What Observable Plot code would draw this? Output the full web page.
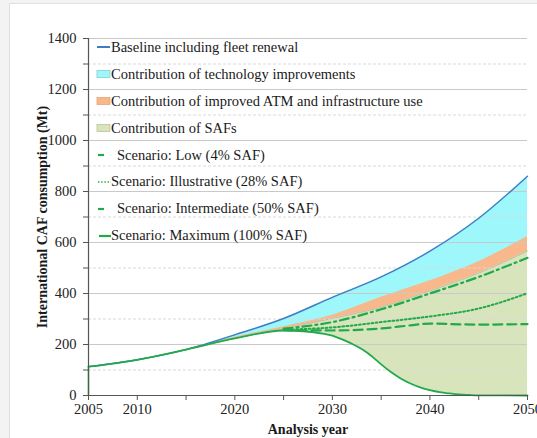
<!DOCTYPE html>
<html>
<head>
<meta charset="utf-8">
<script src="https://cdn.jsdelivr.net/npm/d3@7"></script>
<script src="https://cdn.jsdelivr.net/npm/@observablehq/plot@0.6"></script>
<style>
  body { margin: 0; background: #f3f3f3; }
  #wrap { position: relative; width: 537px; height: 438px; overflow: hidden; }
  #panel { position: absolute; left: 9px; top: 3px; right: 0; bottom: 0; background: #fff;
           border-left: 1px solid #e0e0e0; border-top: 1px solid #e0e0e0; }
  #chart { position: absolute; left: 0; top: 0; }
  #chart svg, #chart svg text { font-family: "Liberation Serif", "Times New Roman", serif !important; }
  #chart svg { font-size: 14.5px; }
  #legend { position: absolute; left: 96px; top: 34px; font: 14.5px "Liberation Serif", "Times New Roman", serif; color: #1a1a1a; }
  .row { height: 26.9px; display: flex; align-items: center; white-space: nowrap; }
  .row svg { width: 15px; height: 10px; flex: none; }
</style>
</head>
<body>
<div id="wrap">
  <div id="panel"></div>
  <div id="chart"></div>
  <div id="legend"></div>
</div>
<script>
// International CAF consumption (Mt), 2005–2050
const years    = [2005, 2010, 2015, 2020, 2025, 2030, 2035, 2040, 2045, 2050];
const baseline = [113, 140, 180, 238, 302, 385, 465, 566, 695, 860];   // baseline incl. fleet renewal
const atmTop   = [113, 140, 180, 228, 270, 315, 385, 450, 525, 624];   // after technology improvements
const safTop   = [113, 140, 180, 224, 262, 302, 346, 410, 480, 567];   // after improved ATM & infrastructure

const scenarioYears = [2025, 2030, 2035, 2040, 2045, 2050];
const low          = [262, 288, 338, 400, 465, 540];
const illustrative = [258, 267, 288, 310, 341, 401];

const intermediateYears = [2025, 2030, 2035, 2038, 2040, 2043, 2045, 2050];
const intermediate      = [256, 255, 263, 275, 282, 279, 278, 280];

const maximumYears = [2005, 2010, 2015, 2020, 2025, 2027, 2029, 2030, 2031, 2032, 2033, 2034,
                      2035, 2036, 2037, 2038, 2039, 2040, 2041, 2042, 2043, 2044, 2045, 2050];
const maximum      = [113, 140, 180, 224, 255, 252, 243, 235, 220, 203, 182, 155,
                      122, 92, 67, 47, 32, 21, 13, 8, 4, 2, 0.5, 0];

const xTickLabels = [2005, 2010, 2020, 2030, 2040, 2050];
const yTicks = d3.range(0, 1401, 100);

const legendItems = [
  {label: "Baseline including fleet renewal", kind: "line", color: "#3f7cc4"},
  {label: "Contribution of technology improvements", kind: "rect", color: "#9ef7fb", edge: "#7fcfd6"},
  {label: "Contribution of improved ATM and infrastructure use", kind: "rect", color: "#f8b88b", edge: "#e9a577"},
  {label: "Contribution of SAFs", kind: "rect", color: "#d8e4bc", edge: "#b9c3a2"},
  {label: "Scenario: Low (4% SAF)", kind: "dash"},
  {label: "Scenario: Illustrative (28% SAF)", kind: "dot"},
  {label: "Scenario: Intermediate (50% SAF)", kind: "dash"},
  {label: "Scenario: Maximum (100% SAF)", kind: "solid"}
];

const C = {
  blue: "#3f7cc4", cyan: "#9ef7fb", orange: "#f8b88b", saf: "#d8e4bc",
  green: "#21a94b", gridMajor: "#c9c9c9", gridMinor: "#d9d9d9", axis: "#555"
};

const zip = (xs, ys) => xs.map((x, i) => ({x, y: ys[i]}));
const curve = "monotone-x";

const chart = Plot.plot({
  width: 537,
  height: 438,
  marginLeft: 88,
  marginRight: 10,
  marginTop: 38,
  marginBottom: 43,
  style: {background: "transparent", color: "#222"},
  x: {domain: [2005, 2050]},
  y: {domain: [0, 1400]},
  marks: [
    // stacked contribution bands, painted from the top band down
    Plot.areaY(zip(years, baseline), {x: "x", y: "y", fill: C.cyan, curve}),
    Plot.areaY(zip(years, atmTop), {x: "x", y: "y", fill: C.orange, curve}),
    Plot.areaY(zip(years, safTop), {x: "x", y: "y", fill: C.saf, curve}),
    Plot.areaY(zip(maximumYears, maximum), {x: "x", y: "y", fill: "#fff", curve}),
    Plot.lineY(zip(years, safTop), {x: "x", y: "y", stroke: "#b3b89e", strokeWidth: 0.8, curve}),
    // gridlines
    Plot.ruleY(d3.range(200, 1401, 200), {stroke: C.gridMajor, strokeWidth: 1}),
    Plot.ruleY(d3.range(100, 1400, 200), {stroke: C.gridMinor, strokeWidth: 1, strokeDasharray: "3,2"}),
    // baseline
    Plot.lineY(zip(years, baseline), {x: "x", y: "y", stroke: C.blue, strokeWidth: 1.4, curve}),
    // SAF scenarios
    Plot.lineY(zip(scenarioYears, low), {x: "x", y: "y", stroke: C.green, strokeWidth: 2.2, strokeDasharray: "9,4,2,4", curve}),
    Plot.lineY(zip(scenarioYears, illustrative), {x: "x", y: "y", stroke: C.green, strokeWidth: 2, strokeDasharray: "1.8,2.4", curve}),
    Plot.lineY(zip(intermediateYears, intermediate), {x: "x", y: "y", stroke: C.green, strokeWidth: 2.2, strokeDasharray: "9,5", curve}),
    Plot.lineY(zip(maximumYears, maximum), {x: "x", y: "y", stroke: C.green, strokeWidth: 1.8, curve}),
    Plot.ruleX([{x: maximumYears[0], y: maximum[0]}], {x: "x", y1: 0, y2: "y", stroke: C.green, strokeWidth: 1.5}),
    // axes
    Plot.ruleY([0], {stroke: C.axis, strokeWidth: 1.2}),
    Plot.ruleX([2005], {stroke: C.axis, strokeWidth: 1.2}),
    Plot.axisY({ticks: yTicks, tickFormat: d => d % 200 === 0 ? String(d) : "", tickSize: 5, tickPadding: 7,
                label: null, stroke: C.axis, fill: "#222", fontSize: 14.5}),
    Plot.axisX({ticks: d3.range(2005, 2051, 5), tickFormat: d => xTickLabels.includes(d) ? String(d) : "",
                tickSize: 5, tickPadding: 3, label: null, stroke: C.axis, fill: "#222", fontSize: 14.5}),
    // axis titles
    Plot.text(["International CAF consumption (Mt)"], {frameAnchor: "left", textAnchor: "middle", dx: -46, rotate: -90,
      fontWeight: "bold", fontSize: 14, fill: "#1a1a1a"}),
    Plot.text(["Analysis year"], {frameAnchor: "bottom", textAnchor: "middle", lineAnchor: "middle", dy: 34,
      fontWeight: "bold", fontSize: 14, fill: "#1a1a1a"})
  ]
});
document.getElementById("chart").append(chart);

// legend
const legend = d3.select("#legend");
for (const item of legendItems) {
  const row = legend.append("div").attr("class", "row");
  const s = row.append("svg").attr("viewBox", "0 0 15 10");
  if (item.kind === "line") {
    s.append("line").attr("x1", 1).attr("x2", 14).attr("y1", 5).attr("y2", 5).attr("stroke", item.color).attr("stroke-width", 2);
  } else if (item.kind === "rect") {
    s.append("rect").attr("x", 1).attr("y", 1.5).attr("width", 13).attr("height", 7)
      .attr("fill", item.color).attr("stroke", item.edge).attr("stroke-width", 0.8);
  } else if (item.kind === "dash") {
    s.append("line").attr("x1", 2).attr("x2", 8).attr("y1", 5).attr("y2", 5).attr("stroke", C.green).attr("stroke-width", 2.2);
  } else if (item.kind === "dot") {
    s.append("line").attr("x1", 2).attr("x2", 15).attr("y1", 5).attr("y2", 5).attr("stroke", C.green)
      .attr("stroke-width", 1.6).attr("stroke-dasharray", "1.4,1.8");
  } else {
    s.append("line").attr("x1", 3).attr("x2", 15).attr("y1", 5).attr("y2", 5).attr("stroke", C.green).attr("stroke-width", 2.2);
  }
  row.append("span").style("padding-left", item.kind === "dash" ? "6px" : "0px").text(item.label);
}
</script>
</body>
</html>
